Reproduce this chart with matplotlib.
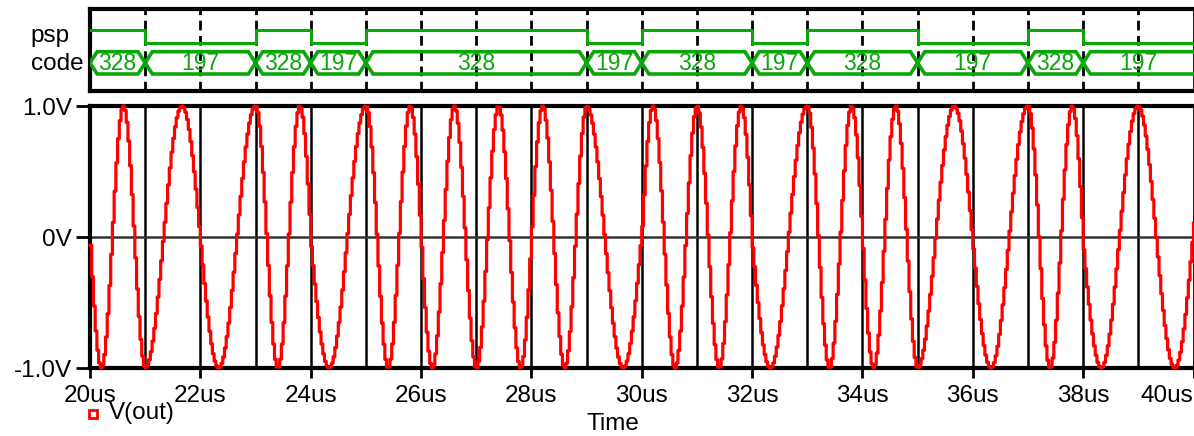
import numpy as np
import matplotlib.pyplot as plt
from matplotlib.lines import Line2D

plt.rcParams['font.family'] = ['Liberation Sans', 'DejaVu Sans']

# digital bus: segment start times (us), frequency code and psp level
seg_start = [20, 21, 23, 24, 25, 29, 30, 32, 33, 35, 37, 38]
seg_code = [328, 197, 328, 197, 328, 197, 328, 197, 328, 197, 328, 197]
seg_psp = [1, 0, 1, 0, 1, 0, 1, 0, 1, 0, 1, 0]
t_end = 40

# DDS output: 1.25 MHz at code 328, sample clock 32 MHz, start phase ~0.5 cycle
f_per_code = 1.25 / 328      # MHz per code step
t_sample = 1 / 32            # us
phase0 = 0.51

x_ticks = [20, 22, 24, 26, 28, 30, 32, 34, 36, 38, 40]
x_labels = ['%dus' % t for t in x_ticks]
y_ticks = [-1, 0, 1]
y_labels = ['-1.0V', '0V', '1.0V']

green = '#0aa60a'
red = '#ff0000'
fs = 17.5

## build the stepped waveform like the phase accumulator would
t = np.arange(20, t_end + t_sample, t_sample)
idx = np.searchsorted(seg_start, t, side='right') - 1
freq = np.array(seg_code)[idx] * f_per_code
phase = phase0 + np.concatenate(([0], np.cumsum(freq[:-1] * t_sample)))
vout = np.sin(2 * np.pi * phase)

W, H = 1194, 436
fig = plt.figure(figsize=(W / 100, H / 100), dpi=100)
left = 90 / W
width = 1103.5 / W

## digital panel
axd = fig.add_axes([left, 1 - 91 / H, width, 82 / H])
axd.set_xlim(20, t_end)
axd.set_ylim(91, 9)   # pixel rows, top panel
for s in ['top', 'bottom', 'left']:
    axd.spines[s].set_linewidth(3)
axd.spines['right'].set_linewidth(2)
axd.set_xticks([])
axd.set_yticks([])
for g in range(21, t_end):
    axd.axvline(g, color='black', lw=2, ls=(0, (3.5, 2)), zorder=1)

hi, lo = 30, 43.5
psp_t = seg_start + [t_end]
psp_y = [hi if p else lo for p in seg_psp]
axd.step(psp_t, psp_y + [psp_y[-1]], where='post', color=green, lw=2.2, zorder=3)

top, bot = 51.7, 74
mid = (top + bot) / 2
d = 0.13
ends = seg_start[1:] + [t_end]
for i, (t0, t1) in enumerate(zip(seg_start, ends)):
    if t1 < t_end:
        xs = [t0, t0 + d, t1 - d, t1, t1 - d, t0 + d, t0]
        ys = [mid, top, top, mid, bot, bot, mid]
        axd.plot(xs, ys, color=green, lw=2.6, zorder=3, solid_joinstyle='miter')
    else:
        axd.plot([t1, t0 + d, t0, t0 + d, t1], [top, top, mid, bot, bot],
                 color=green, lw=2.6, zorder=3, clip_on=False)
    axd.text((t0 + t1) / 2, mid + 0.5, str(seg_code[i]), color=green,
             ha='center', va='center', fontsize=16.5, zorder=4)

fig.text(70 / W, 1 - 36 / H, 'psp', ha='right', va='center', fontsize=fs)
fig.text(84 / W, 1 - 64 / H, 'code', ha='right', va='center', fontsize=fs)

## analog panel
axa = fig.add_axes([left, 1 - 368 / H, width, 262 / H])
axa.set_xlim(20, t_end)
axa.set_ylim(-1, 1)
for s in ['top', 'bottom', 'left']:
    axa.spines[s].set_linewidth(3)
axa.spines['right'].set_linewidth(2)
for g in range(21, t_end):
    axa.axvline(g, color='black', lw=1.8, zorder=1)
axa.axhline(0, color='#333333', lw=1.8, zorder=1)
axa.plot(t, vout, drawstyle='steps-post', color=red, lw=2.3, zorder=3, clip_on=False)

axa.set_xticks(x_ticks)
axa.set_xticklabels(x_labels, fontsize=fs)
axa.set_yticks(y_ticks)
axa.set_yticklabels(y_labels, fontsize=fs)
axa.tick_params(axis='x', length=7, width=2, pad=5)
axa.tick_params(axis='y', length=10, width=2, pad=3)
axa.get_xticklabels()[-1].set_horizontalalignment('right')
axa.get_xticklabels()[-1].set_x(40.5)

fig.add_artist(Line2D([93 / W], [1 - 414 / H], marker='s', ms=6, mfc='white',
                      mec=red, mew=2, transform=fig.transFigure))
fig.text(109 / W, 1 - 413 / H, 'V(out)', ha='left', va='center', fontsize=fs)
fig.text(613 / W, 1 - 435 / H, 'Time', ha='center', va='bottom', fontsize=fs)

fig.savefig('out.png', dpi=100)
